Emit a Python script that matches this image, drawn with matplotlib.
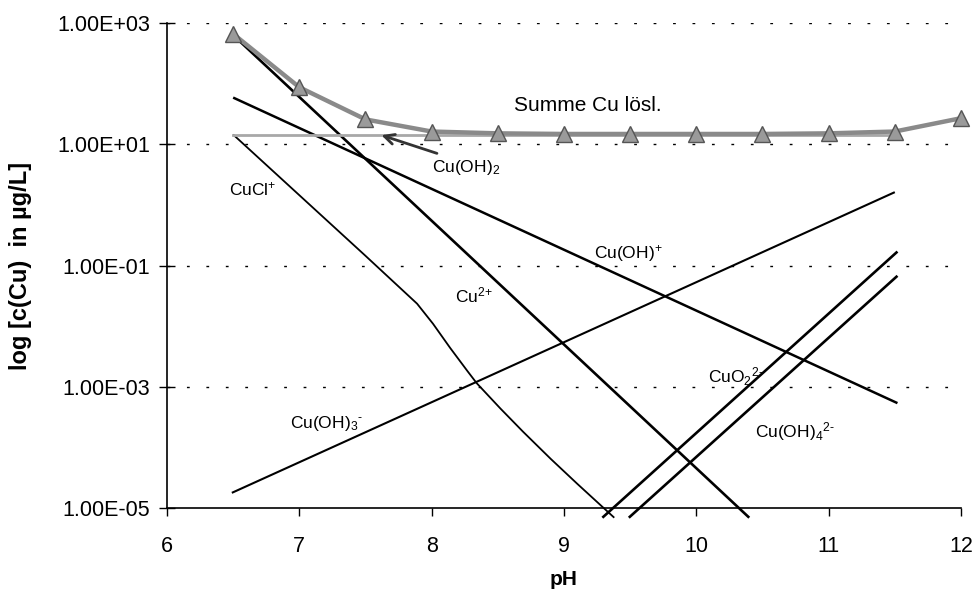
"""Kupferspezies in Abhaengigkeit vom pH (log c in ug/L)"""

import matplotlib
matplotlib.use('Agg')
import matplotlib.pyplot as plt
import numpy as np

plt.rcParams['font.family'] = ['Liberation Sans', 'DejaVu Sans']
plt.rcParams['mathtext.fontset'] = 'custom'
plt.rcParams['mathtext.rm'] = 'Liberation Sans'
plt.rcParams['mathtext.it'] = 'Liberation Sans'

ph_summe = [6.5, 7.0, 7.5, 8.0, 8.5, 9.0, 9.5, 10.0, 10.5, 11.0, 11.5, 12.0]
log_summe = [2.82, 1.94, 1.41, 1.21, 1.18, 1.17, 1.17, 1.17, 1.17, 1.18, 1.21, 1.43]

ph_cu2 = [6.5, 10.4]
log_cu2 = [2.80, -5.16]

ph_cuoh = [6.5, 11.52]
log_cuoh = [1.77, -3.27]

ph_cuoh2 = [6.5, 11.5]
log_cuoh2 = [1.16, 1.16]

ph_cucl = [6.5, 7.0, 7.5, 7.89, 8.01, 8.14, 8.27, 8.34, 8.52, 8.69, 8.9, 9.1, 9.38]
log_cucl = [1.16, 0.16, -0.84, -1.63, -1.96, -2.36, -2.74, -2.94, -3.36, -3.74,
            -4.19, -4.6, -5.16]

ph_cuoh3 = [6.49, 11.5]
log_cuoh3 = [-4.75, 0.21]

ph_cuo2 = [9.29, 11.52]
log_cuo2 = [-5.16, -0.77]

ph_cuoh4 = [9.49, 11.52]
log_cuoh4 = [-5.16, -1.17]

x_ticks = [6, 7, 8, 9, 10, 11, 12]
y_ticks = [1e-5, 1e-3, 1e-1, 1e1, 1e3]
y_ticklabels = ['1.00E-05', '1.00E-03', '1.00E-01', '1.00E+01', '1.00E+03']


def zehn(werte):
    return 10.0 ** np.array(werte)


fig = plt.figure(figsize=(9.76, 5.98), dpi=100)
ax = fig.add_axes([0.1711, 0.1505, 0.8135, 0.811])
ax.set_yscale('log')
ax.set_xlim(6, 12)
ax.set_ylim(1e-5, 1e3)

for y in y_ticks[1:]:
    ax.axhline(y, color='black', lw=1.0, ls=(0, (2, 12)), zorder=0)

schwarz = dict(color='black', clip_on=False, solid_capstyle='butt')
ax.plot(ph_cuoh3, zehn(log_cuoh3), lw=1.5, **schwarz)
ax.plot(ph_cucl, zehn(log_cucl), lw=1.3, **schwarz)
ax.plot(ph_cuoh, zehn(log_cuoh), lw=1.8, **schwarz)
ax.plot(ph_cu2, zehn(log_cu2), lw=1.9, **schwarz)
ax.plot(ph_cuo2, zehn(log_cuo2), lw=1.9, **schwarz)
ax.plot(ph_cuoh4, zehn(log_cuoh4), lw=1.9, **schwarz)
ax.plot(ph_cuoh2, zehn(log_cuoh2), color='#a8a8a8', lw=2.0, zorder=3)
ax.plot(ph_summe, zehn(log_summe), color='#8a8a8a', lw=3.2, marker='^',
        ms=11, mfc='#9a9a9a', mec='#555555', mew=1.0, zorder=4, clip_on=False)

ax.annotate('', xy=(7.62, 10 ** 1.15), xytext=(8.04, 10 ** 0.85),
            arrowprops=dict(arrowstyle='->', color='#333333', lw=2.0,
                            mutation_scale=18, shrinkA=0, shrinkB=0))

fs = 12.5
ax.text(8.62, 10 ** 1.64, 'Summe Cu lösl.', fontsize=15, va='center')
ax.text(8.0, 10 ** 0.62, 'Cu(OH)$_2$', fontsize=fs, va='center')
ax.text(6.47, 10 ** 0.25, 'CuCl$^{+}$', fontsize=fs, va='center')
ax.text(8.18, 10 ** -1.5, 'Cu$^{2{+}}$', fontsize=fs, va='center')
ax.text(9.23, 10 ** -0.81, 'Cu(OH)$^{+}$', fontsize=fs, va='center')
ax.text(10.09, 10 ** -2.83, 'CuO$_2$$^{2\u2010}$', fontsize=fs, va='center')
ax.text(10.44, 10 ** -3.74, 'Cu(OH)$_4$$^{2\u2010}$', fontsize=fs, va='center')
ax.text(6.93, 10 ** -3.61, 'Cu(OH)$_3$$^{\u2010}$', fontsize=fs, va='center')

ax.set_xticks(x_ticks)
ax.set_xticklabels([str(v) for v in x_ticks])
ax.set_yticks(y_ticks)
ax.set_yticklabels(y_ticklabels)
ax.minorticks_off()
ax.tick_params(axis='y', direction='inout', length=12, width=1, labelsize=15.5,
               pad=6)
ax.tick_params(axis='x', direction='out', length=6, width=1, labelsize=15.5,
               pad=14)

for s in ('top', 'right'):
    ax.spines[s].set_visible(False)
for s in ('left', 'bottom'):
    ax.spines[s].set_linewidth(1.2)

ax.set_ylabel('log [c(Cu)  in µg/L]', fontsize=17, fontweight='bold')
ax.yaxis.set_label_coords(-0.17, 0.5)
ax.set_xlabel('pH', fontsize=15, fontweight='bold')
ax.xaxis.set_label_coords(0.5, -0.128)

fig.savefig('out.png', dpi=100)
